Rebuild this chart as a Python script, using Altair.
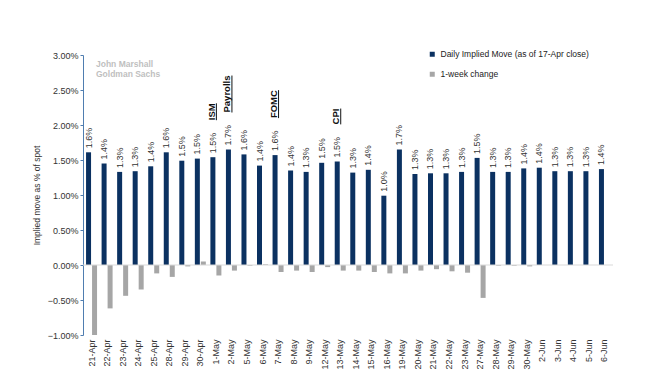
import altair as alt
import pandas as pd

dates = ["21-Apr", "22-Apr", "23-Apr", "24-Apr", "25-Apr", "28-Apr", "29-Apr", "30-Apr",
         "1-May", "2-May", "5-May", "6-May", "7-May", "8-May", "9-May", "12-May", "13-May",
         "14-May", "15-May", "16-May", "19-May", "20-May", "21-May", "22-May", "23-May",
         "27-May", "28-May", "29-May", "30-May", "2-Jun", "3-Jun", "4-Jun", "5-Jun", "6-Jun"]

implied = [1.61, 1.45, 1.33, 1.34, 1.41, 1.61, 1.49, 1.52, 1.54, 1.65, 1.58, 1.42, 1.57,
           1.35, 1.33, 1.46, 1.48, 1.32, 1.36, 0.99, 1.65, 1.30, 1.31, 1.31, 1.33, 1.53,
           1.33, 1.33, 1.38, 1.39, 1.34, 1.34, 1.34, 1.37]

value_labels = ["1.6%", "1.4%", "1.3%", "1.3%", "1.4%", "1.6%", "1.5%", "1.5%", "1.5%",
                "1.7%", "1.6%", "1.4%", "1.6%", "1.4%", "1.3%", "1.5%", "1.5%", "1.3%",
                "1.4%", "1.0%", "1.7%", "1.3%", "1.3%", "1.3%", "1.3%", "1.5%", "1.3%",
                "1.3%", "1.4%", "1.4%", "1.3%", "1.3%", "1.3%", "1.4%"]

change = [-1.00, -0.62, -0.44, -0.35, -0.12, -0.17, -0.02, 0.05, -0.15, -0.08, -0.01, 0.01,
          -0.10, -0.08, -0.10, -0.03, -0.08, -0.08, -0.10, -0.12, -0.12, -0.08, -0.06, -0.09,
          -0.11, -0.47, -0.01, -0.01, -0.02, 0.0, 0.0, 0.0, 0.0, 0.0]

event_dates = ["1-May", "2-May", "7-May", "13-May"]
event_names = ["ISM", "Payrolls", "FOMC", "CPI"]

series_names = ["Daily Implied Move (as of 17-Apr close)", "1-week change"]
series_colors = ["#0b3161", "#a6a6a6"]

y_ticks = [-1.0, -0.5, 0.0, 0.5, 1.0, 1.5, 2.0, 2.5, 3.0]

FONT = "Arial, Liberation Sans, sans-serif"
EVENT_SIZE = 9.5
EVENT_DX = 37

# approximate Arial Bold advance widths (per 1000 em) to size the underlines
_bold_w = {"I": 278, "S": 667, "M": 833, "P": 667, "a": 556, "y": 556, "r": 389,
           "o": 611, "l": 278, "s": 556, "F": 611, "O": 778, "C": 722}

df = pd.DataFrame({"date": dates, "implied": implied, "label": value_labels, "change": change})
ev = pd.DataFrame({"date": event_dates, "event": event_names})
ev = ev.merge(df[["date", "implied"]], on="date")
ev["w"] = ev["event"].apply(lambda s: sum(_bold_w.get(c, 600) for c in s) * EVENT_SIZE / 1000)

x_axis = alt.Axis(labelAngle=270, labelFontSize=9, labelColor="#333333",
                  labelFont=FONT, domain=False, ticks=False, labelPadding=4,
                  labelOverlap=False, title=None)
x_scale = alt.Scale(paddingInner=0, paddingOuter=0.05)
y_scale = alt.Scale(domain=[-1.0, 3.0], nice=False, zero=False)
y_axis = alt.Axis(values=y_ticks, labelExpr="format(datum.value / 100, '.2%')",
                  grid=False, domainColor="#4f7db0", tickColor="#4f7db0", tickSize=3,
                  labelFontSize=9, labelColor="#333333", labelFont=FONT, labelOverlap=False,
                  labelFlush=False,
                  title="Implied move as % of spot", titleFontSize=8.5, titleFontWeight="normal",
                  titleColor="#333333", titleFont=FONT, titlePadding=6, labelPadding=2)


def X():
    return alt.X("date:N", sort=dates, scale=x_scale, axis=x_axis, title=None)


def Y(field):
    return alt.Y(field, scale=y_scale, axis=y_axis, title="Implied move as % of spot")


color_scale = alt.Scale(domain=series_names, range=series_colors)
legend = alt.Legend(title=None, orient="none", legendX=345, legendY=-5,
                    symbolType="square", symbolSize=25, symbolStrokeWidth=0,
                    labelFontSize=8.5, labelFont=FONT, labelColor="#222222",
                    rowPadding=11, labelLimit=0)

base = alt.Chart(df)

blue = base.mark_bar(width=5, xOffset=-3).encode(
    x=X(),
    y=Y("implied:Q"),
    color=alt.Color("s:N", scale=color_scale, legend=legend),
).transform_calculate(s=f"'{series_names[0]}'")

gray = base.mark_bar(width=5, xOffset=3).encode(
    x=X(),
    y=Y("change:Q"),
    color=alt.Color("s:N", scale=color_scale, legend=legend),
).transform_calculate(s=f"'{series_names[1]}'")

zero = alt.Chart(pd.DataFrame({"z": [0.0]})).mark_rule(color="#d9d9d9", strokeWidth=1).encode(
    y=Y("z:Q")
)

labels = base.mark_text(angle=270, align="left", baseline="middle", dx=4, xOffset=-3,
                        fontSize=9, font=FONT, color="#333333").encode(
    x=X(),
    y=Y("implied:Q"),
    text="label:N",
)

events = alt.Chart(ev).mark_text(angle=270, align="left", baseline="middle", dx=EVENT_DX,
                                 xOffset=-4, fontSize=EVENT_SIZE, font=FONT, fontWeight="bold",
                                 color="#111111").encode(
    x=X(),
    y=Y("implied:Q"),
    text="event:N",
)

underline = alt.Chart(ev).mark_rule(
    color="#111111", strokeWidth=1, xOffset=0.5,
    yOffset=-EVENT_DX, y2Offset={"expr": f"-{EVENT_DX} - datum.w"},
).encode(
    x=X(),
    y=Y("implied:Q"),
    y2="implied:Q",
)

wm = alt.Chart(pd.DataFrame({"t": [["John Marshall", "Goldman Sachs"]]})).mark_text(
    align="left", baseline="top", fontSize=8.5, font=FONT, fontWeight="bold",
    color="#bfbfbf", lineHeight=10).encode(
    x=alt.value(13), y=alt.value(5), text="t"
)

chart = alt.layer(blue, gray, zero, labels, events, underline, wm).properties(
    width=530, height=280,
    autosize=alt.AutoSizeParams(type="none"),
    padding={"left": 75, "top": 47, "right": 25, "bottom": 50},
).configure_view(stroke=None).configure_axisY(domainWidth=1)

chart.save("out.html", embed_options={"renderer": "svg", "actions": False})
